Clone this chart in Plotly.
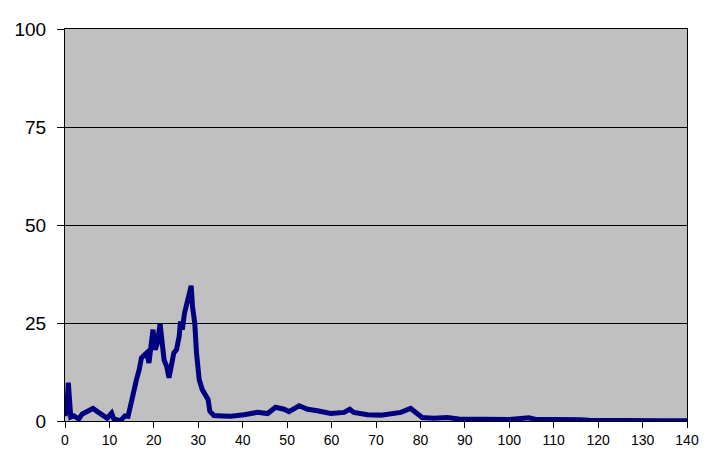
import plotly.graph_objects as go

x_vals = [0, 0.4, 0.75, 1.05, 1.3, 2, 3.1, 3.9, 5, 6.3, 7.3, 8.8, 9.5, 10.5, 11, 12.5, 13.5, 14.2,
          14.8, 15.5, 16.1, 16.7, 17.2, 17.9, 18.4, 18.9, 19.4, 19.8, 20.3, 20.8, 21.4, 21.8,
          22.3, 22.9, 23.4, 23.9, 24.5, 25.1, 25.7, 26.0, 26.4, 26.9, 27.5, 28.1, 28.4, 28.7,
          29.2, 29.6, 30.2, 30.9, 31.7, 32.2, 32.6, 33.5, 35.5, 37.3, 40.3, 42, 43.3, 45.6,
          47.4, 49.3, 50.4, 52.7, 54.6, 56.8, 58.5, 59.8, 62.8, 64.1, 65, 68.1, 71.1, 73.5,
          75.6, 77.8, 78.9, 80.4, 83, 86, 88.6, 92, 96, 100, 104.4, 106, 110, 114, 116, 118,
          122, 128, 134, 140]
y_vals = [1.3, 3, 9.8, 3, 1, 1.3, 0.5, 1.8, 2.4, 3.2, 2.4, 1.3, 0.7, 2, 0.5, 0.1, 1.3, 1.2,
          4.6, 8, 10.6, 13.1, 16.1, 16.9, 17.4, 14.8, 19, 23.3, 18.2, 19.9, 24.8, 19.9,
          15.6, 13.9, 11, 13.9, 17.4, 18.2, 21.6, 25.4, 23.3, 27.5, 30.1, 32.2, 34.5, 29.2,
          25, 17.4, 10.6, 8, 6.7, 5.5, 2.5, 1.4, 1.3, 1.2, 1.6, 1.8, 2.2, 1.9,
          3.5, 3.0, 2.4, 3.9, 3.0, 2.6, 2.3, 1.9, 2.2, 3.0, 2.2, 1.6, 1.5, 1.8,
          2.2, 3.2, 2.2, 0.9, 0.7, 0.9, 0.5, 0.5, 0.4, 0.4, 0.8, 0.4, 0.4, 0.5, 0.3, 0.2,
          0.1, 0.1, 0.05, 0.05]

x_ticks = list(range(0, 141, 10))
y_ticks = [0, 25, 50, 75, 100]

fig = go.Figure()
fig.add_trace(go.Scatter(x=x_vals, y=y_vals, mode="lines",
                         line=dict(color="#000080", width=5), showlegend=False))

fig.update_layout(
    width=699, height=464,
    margin=dict(l=57, r=20, t=21, b=51),
    paper_bgcolor="white",
    plot_bgcolor="#C0C0C0",
    font=dict(family="Liberation Sans, Arial, sans-serif", color="black"),
)
fig.update_xaxes(range=[0, 140], tickvals=x_ticks, ticks="outside", ticklen=6,
                 tickcolor="black", showline=True, linecolor="black", linewidth=1,
                 mirror=True, showgrid=False, zeroline=False, tickfont=dict(size=14),
                 automargin=False)
fig.update_yaxes(range=[0, 100], tickvals=y_ticks, ticks="outside", ticklen=7,
                 tickcolor="black", showline=True, linecolor="black", linewidth=1,
                 mirror=True, showgrid=True, gridcolor="black", gridwidth=1,
                 zeroline=False, tickfont=dict(size=19), ticklabelstandoff=7,
                 automargin=False)

fig.write_html("out.html")
